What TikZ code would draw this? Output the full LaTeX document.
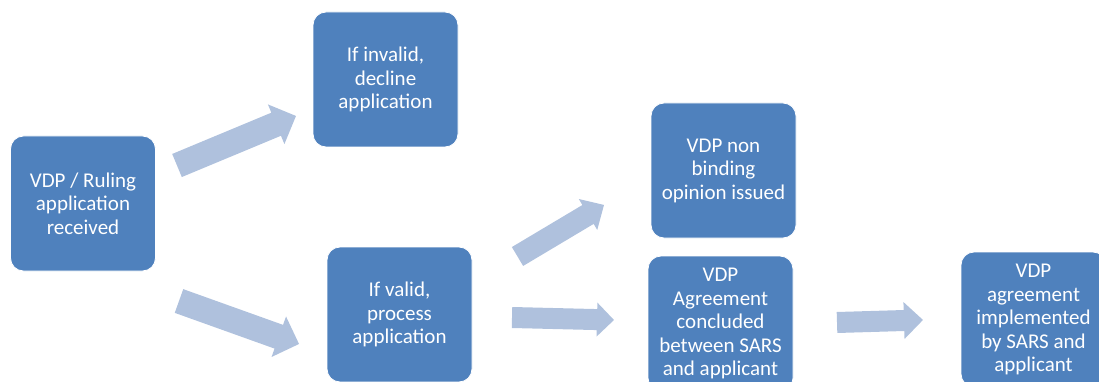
\documentclass[tikz,border=0pt]{standalone}
\usepackage{fontspec}
\setmainfont{Carlito}
\definecolor{boxblue}{HTML}{4F81BD}
\definecolor{arrowblue}{HTML}{AFC1DD}
\tikzset{
  stage/.style={rectangle, rounded corners=13pt, fill=boxblue, draw=white, line width=0.8pt,
    minimum width=145pt, minimum height=135pt, inner sep=0pt, align=center, text=white,
    font=\fontsize{21}{23.5}\selectfont},
  blockarrow/.style={fill=arrowblue}
}
% tail x, tail y, angle, length, shaft half-width, head half-width, head length
\newcommand\barrow[7]{%
  \fill[blockarrow, shift={(#1,#2)}, rotate=#3]
    (0,-#5) -- (#4-#7,-#5) -- (#4-#7,-#6) -- (#4,0) -- (#4-#7,#6) -- (#4-#7,#5) -- (0,#5) -- cycle;}
\begin{document}
\begin{tikzpicture}[x=1pt,y=1pt]
\useasboundingbox (0,0) rectangle (1099,-382);
\clip (0,0) rectangle (1099,-382);
\node[stage] (recv) at (83,-203.5) {VDP / Ruling\\application\\received};
\node[stage] (invalid) at (385.5,-79.5) {If invalid,\\decline\\application};
\node[stage] (valid) at (399.5,-314.5) {If valid,\\process\\application};
\node[stage] (opinion) at (723.5,-170.5) {VDP non\\binding\\opinion issued};
\node[stage] (agree) at (720.5,-323.5) {VDP\\Agreement\\concluded\\between SARS\\and applicant};
\node[stage] (impl) at (1033.5,-319.5) {VDP\\agreement\\implemented\\by SARS and\\applicant};
\barrow{177}{-165.5}{22.6}{128.9}{12.5}{21.5}{21.5}
\barrow{179}{-301}{-19.7}{127.5}{12.6}{21.5}{21.5}
\barrow{517.5}{-256.5}{30.8}{100.7}{11}{18}{18.6}
\barrow{512}{-317.5}{-1.4}{102}{10.5}{17}{17}
\barrow{837}{-322.5}{1.7}{86}{10.5}{18.5}{19}
\end{tikzpicture}
\end{document}
